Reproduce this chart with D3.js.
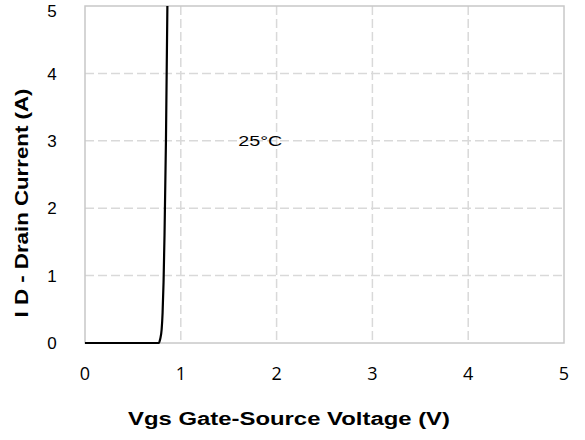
<!DOCTYPE html>
<html>
<head>
<meta charset="utf-8">
<script src="https://cdn.jsdelivr.net/npm/d3@7"></script>
<style>
  body { margin: 0; background: #fff; }
  svg { display: block; }
</style>
</head>
<body>
<div id="chart"></div>
<script>
// -------- Data --------
const vgsValues = [0, 0.77, 0.785, 0.80, 0.81, 0.82, 0.83, 0.845, 0.86];
const idValues  = [0, 0, 0.06, 0.2, 0.45, 0.9, 1.6, 3.0, 5.0];
const xTicks = [0, 1, 2, 3, 4, 5];
const yTicks = [0, 1, 2, 3, 4, 5];
const curveLabel = "25°C";
const xTitle = "Vgs Gate-Source Voltage (V)";
const yTitle = "I D - Drain Current (A)";

// -------- Layout --------
const W = 585, H = 440;
const plot = { left: 85, right: 564, top: 6, bottom: 343 };

const svg = d3.select("#chart").append("svg")
  .attr("width", W)
  .attr("height", H);

const x = d3.scaleLinear().domain([0, 5]).range([plot.left, plot.right]);
const y = d3.scaleLinear().domain([0, 5]).range([plot.bottom, plot.top]);

// Gridlines (dashed)
svg.append("g")
  .selectAll("line")
  .data(xTicks.slice(1, -1))
  .join("line")
  .attr("x1", d => x(d)).attr("x2", d => x(d))
  .attr("y1", plot.top).attr("y2", plot.bottom)
  .attr("stroke", "#d9d9d9")
  .attr("stroke-width", 1.5)
  .attr("stroke-dasharray", "9,4");

svg.append("g")
  .selectAll("line")
  .data(yTicks.slice(1, -1))
  .join("line")
  .attr("x1", plot.left).attr("x2", plot.right)
  .attr("y1", d => y(d)).attr("y2", d => y(d))
  .attr("stroke", "#d9d9d9")
  .attr("stroke-width", 1.5)
  .attr("stroke-dasharray", "9,4");

// Plot border
svg.append("rect")
  .attr("x", plot.left)
  .attr("y", plot.top)
  .attr("width", plot.right - plot.left)
  .attr("height", plot.bottom - plot.top)
  .attr("fill", "none")
  .attr("stroke", "#c8c8c8")
  .attr("stroke-width", 1.5);

// Curve (monotone so the flat part doesn't dip below zero)
const points = vgsValues.map((v, i) => ({ v, i: idValues[i] }));
const line = d3.line()
  .x(d => x(d.v))
  .y(d => y(d.i))
  .curve(d3.curveMonotoneX);

svg.append("path")
  .datum(points)
  .attr("d", line)
  .attr("fill", "none")
  .attr("stroke", "#000")
  .attr("stroke-width", 2.2);

// Annotation
svg.append("text")
  .attr("x", x(1.6))
  .attr("y", y(3))
  .attr("dy", "0.35em")
  .attr("font-family", "Arial, 'Liberation Sans', sans-serif")
  .attr("font-size", 15)
  .attr("textLength", 44)
  .attr("lengthAdjust", "spacingAndGlyphs")
  .text(curveLabel);

// Y tick labels (top one nudged down to stay inside the page)
svg.append("g")
  .selectAll("text")
  .data(yTicks)
  .join("text")
  .attr("x", 52)
  .attr("y", d => Math.max(y(d), 11))
  .attr("dy", "0.36em")
  .attr("text-anchor", "middle")
  .attr("font-family", "Arial, 'Liberation Sans', sans-serif")
  .attr("font-size", 17)
  .attr("fill", "#000")
  .text(d => d);

// X tick labels
svg.append("g")
  .selectAll("text")
  .data(xTicks)
  .join("text")
  .attr("x", d => x(d))
  .attr("y", 380)
  .attr("text-anchor", "middle")
  .attr("font-family", "'Open Sans', 'Noto Sans', sans-serif")
  .attr("font-size", 18)
  .attr("fill", "#000")
  .text(d => d);

// Axis titles
svg.append("text")
  .attr("x", 289)
  .attr("y", 425)
  .attr("text-anchor", "middle")
  .attr("font-family", "Arial, 'Liberation Sans', sans-serif")
  .attr("font-weight", "bold")
  .attr("font-size", 18)
  .attr("textLength", 322)
  .attr("lengthAdjust", "spacingAndGlyphs")
  .text(xTitle);

svg.append("text")
  .attr("transform", "translate(28,203) rotate(-90)")
  .attr("text-anchor", "middle")
  .attr("font-family", "Arial, 'Liberation Sans', sans-serif")
  .attr("font-weight", "bold")
  .attr("font-size", 18)
  .attr("textLength", 229)
  .attr("lengthAdjust", "spacingAndGlyphs")
  .text(yTitle);
</script>
</body>
</html>
